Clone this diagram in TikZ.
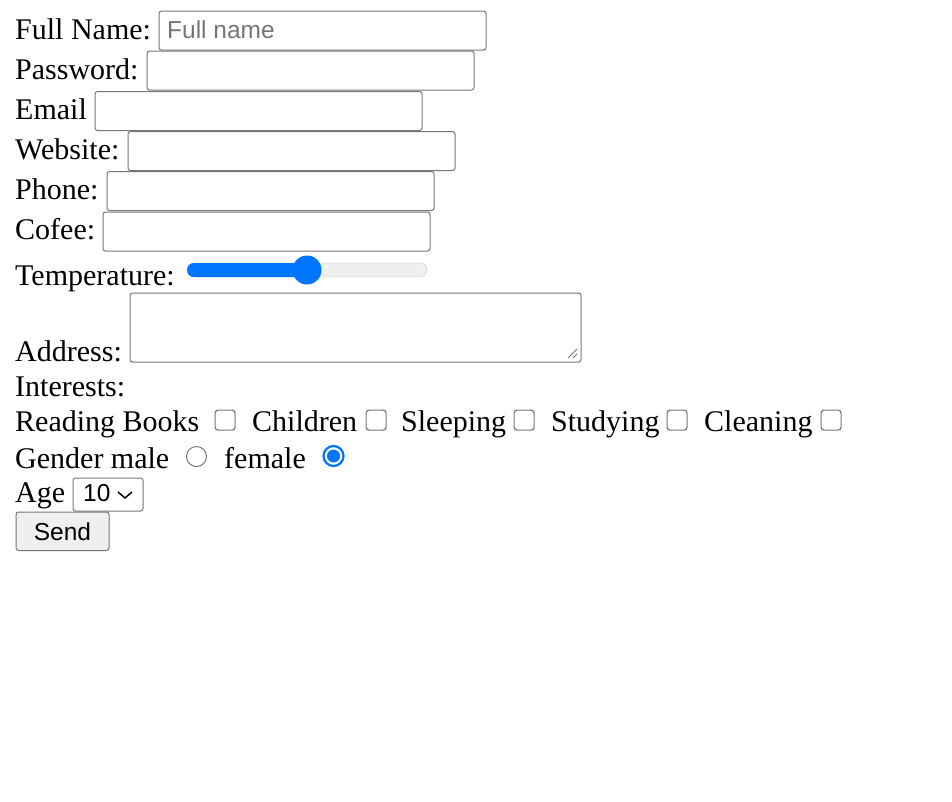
\documentclass[tikz,border=0pt]{standalone}
\usepackage{fontspec}
\setmainfont{Liberation Serif}
\newfontfamily\uisans{Liberation Sans}
\usepackage{tikz}
\usetikzlibrary{positioning}
\usepackage{xcolor}
\definecolor{boxgray}{HTML}{767676}
\definecolor{hintgray}{HTML}{757575}
\definecolor{trackgray}{HTML}{EFEFEF}
\definecolor{trackline}{HTML}{C4C4C4}
\definecolor{accent}{HTML}{0075FF}
\definecolor{btnfill}{HTML}{EFEFEF}
\newcommand{\formfont}{\fontsize{30}{36}\selectfont}
\newcommand{\ctlfont}{\uisans\fontsize{24.5}{29}\selectfont}
\tikzset{
    formtext/.style={
        anchor=base west,
        inner sep=0pt,
        font=\formfont
    },
    field/.style={
        draw=boxgray,
        line width=1pt,
        rounded corners=2.5pt,
        anchor=north west,
        minimum width=327pt,
        minimum height=39pt,
        inner sep=0pt
    },
    checkbox/.style={
        draw=boxgray,
        line width=1.2pt,
        rounded corners=3pt,
        anchor=north west,
        minimum size=20pt,
        inner sep=0pt
    },
    radio/.style={
        circle,
        draw=boxgray,
        line width=1pt,
        minimum size=20pt,
        inner sep=0pt
    }
}

\begin{document}
\begin{tikzpicture}[x=1pt,y=-1pt]
    \useasboundingbox (0,0) rectangle (952,801);

    % Text fields
    \node[formtext] (name) at (15,39) {Full Name:};
    \node[field] (nameBox) at (158.5,10.5) {};
    \node[anchor=base west, inner sep=0pt, font=\ctlfont, text=hintgray] (nameHint) at (167,38.5) {Full name};

    \node[formtext] (pass) at (15,79) {Password:};
    \node[field] (passBox) at (146.5,50.5) {};

    \node[formtext] (mail) at (15,119) {Email};
    \node[field] (mailBox) at (94.5,91) {};

    \node[formtext] (site) at (15,159) {Website:};
    \node[field] (siteBox) at (127.5,131) {};

    \node[formtext] (phone) at (15,199) {Phone:};
    \node[field] (phoneBox) at (106.5,171) {};

    \node[formtext] (cofee) at (15,239) {Cofee:};
    \node[field] (cofeeBox) at (102.5,211.5) {};

    % Slider
    \node[formtext] (temp) at (15,285) {Temperature:};
    \draw[trackline, fill=trackgray, rounded corners=7pt] (187,263) rectangle (427,277);
    \fill[accent, rounded corners=7pt] (187,263) rectangle (307,277);
    \node[circle, fill=accent, minimum size=29pt, inner sep=0pt] (thumb) at (307,270) {};

    % Text area
    \node[formtext] (addr) at (15,361.5) {Address:};
    \node[field, minimum width=451pt, minimum height=69pt] (addrBox) at (129.5,292.5) {};
    \draw[boxgray, line width=1pt] (568,358) -- (577,349);
    \draw[boxgray, line width=1pt] (573,358) -- (577,354);

    % Check boxes
    \node[formtext] (interests) at (15,396.5) {Interests:};
    \node[formtext] (books) at (15,431.5) {Reading Books};
    \node[checkbox] (booksBox) at (214.5,409.5) {};
    \node[formtext] (kids) at (252,431.5) {Children};
    \node[checkbox] (kidsBox) at (365.5,409.5) {};
    \node[formtext] (sleep) at (401,431.5) {Sleeping};
    \node[checkbox] (sleepBox) at (513.5,409.5) {};
    \node[formtext] (study) at (551,431.5) {Studying};
    \node[checkbox] (studyBox) at (666.5,409.5) {};
    \node[formtext] (clean) at (704,431.5) {Cleaning};
    \node[checkbox] (cleanBox) at (820.5,409.5) {};

    % Radio buttons
    \node[formtext] (gender) at (15,468) {Gender male};
    \node[radio] (maleRadio) at (196.5,456.5) {};
    \node[formtext] (female) at (224,468) {female};
    \node[radio, draw=accent, line width=2.2pt] (femaleRadio) at (333.5,456) {};
    \fill[accent] (femaleRadio.center) circle (6.5pt);

    % Select and button
    \node[formtext] (age) at (15,502) {Age};
    \node[field, minimum width=70pt, minimum height=33pt] (ageBox) at (72.5,477.5) {};
    \node[anchor=base west, inner sep=0pt, font=\ctlfont] (ageValue) at (83,501) {10};
    \draw[line width=1.5pt, line join=round] (118,492) -- (125,498) -- (132,492);
    \node[draw=boxgray, fill=btnfill, line width=1pt, rounded corners=2.5pt, anchor=north west,
          minimum width=93pt, minimum height=38.5pt, inner sep=0pt, font=\ctlfont] (send) at (15.5,511.5) {Send};
\end{tikzpicture}
\end{document}
